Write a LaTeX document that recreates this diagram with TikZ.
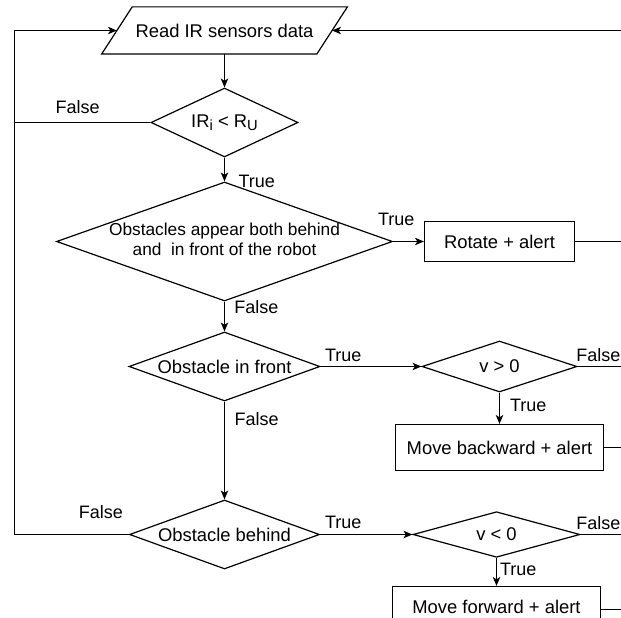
\documentclass[tikz,border=0pt]{standalone}
\usepackage{fontspec}
\setmainfont{Liberation Sans}
\usetikzlibrary{shapes.geometric,arrows.meta,calc}
% lowered, slightly smaller index letters
\newcommand\lowsub[1]{\raisebox{-3.3pt}{\fontsize{14.7}{14.7}\selectfont #1}}
% zero-width text so the diamond keeps its given size
\newcommand\zw[1]{\makebox[0pt]{#1}}

\begin{document}
\begin{tikzpicture}[x=1pt,y=-1pt,line width=1.2pt,
  every node/.style={inner sep=0pt},
  base/.style={font=\fontsize{18.4}{22}\selectfont},
  proc/.style={base,draw,rectangle},
  dec/.style={base,draw,diamond},
  lbl/.style={font=\fontsize{18}{20}\selectfont},
  arr/.style={-{Stealth[length=9pt,width=7.5pt,inset=2.5pt]}}]
\useasboundingbox (0,0) rectangle (621,618);
\clip (0,0) rectangle (621,618);

% input block (parallelogram drawn around a plain node)
\node[base,minimum width=214pt,minimum height=46pt] (read) at (224.5,30.5) {Read IR sensors data};
\draw ([xshift=15.3pt]read.north west) -- ([xshift=15.3pt]read.north east)
  -- ([xshift=-15.3pt]read.south east) -- ([xshift=-15.3pt]read.south west) -- cycle;

% decisions and actions
\node[dec,minimum width=147pt,minimum height=69pt] (ir) at (224.5,122.5)
  {\zw{IR\lowsub{i} < R\lowsub{U}}};
\node[dec,minimum width=336pt,minimum height=119pt,font=\fontsize{17.3}{20.6}\selectfont] (both) at (224.5,241.5)
  {\zw{\begin{tabular}{@{}c@{}}Obstacles appear both behind\\and\ \ in front of the robot\end{tabular}}};
\node[proc,minimum width=150pt,minimum height=40pt] (rot) at (499.5,241.5) {Rotate + alert};
\node[dec,minimum width=191pt,minimum height=69pt] (front) at (224.5,366.5) {\zw{Obstacle in front}};
\node[dec,minimum width=155pt,minimum height=51pt] (vpos) at (499.5,366.5) {\zw{v > 0}};
\node[proc,minimum width=208pt,minimum height=46pt] (back) at (499.5,447.5) {Move backward + alert};
\node[dec,minimum width=190pt,minimum height=69pt] (behind) at (224.5,534.5) {\zw{Obstacle behind}};
\node[dec,minimum width=167pt,minimum height=45.6pt] (vneg) at (496.5,534.5) {\zw{v < 0}};
\node[proc,minimum width=208pt,minimum height=46pt] (fwd) at (496.5,609.5) {\raisebox{6.2pt}{Move forward + alert}};

% free ends at the left loop and the right border
\coordinate (lft) at (14.5,30.5);
\coordinate (rgt) at (621,30.5);

% connectors
\draw[arr] (read.south) -- (ir.north);
\draw[arr] (ir.south) -- (both.north);
\draw (ir.west) -- (ir.west -| lft);
\draw[arr] (behind.west) -| (lft) -- (read.west);
\draw[arr] (rgt) -- (read.east);
\draw[arr] (both.east) -- (rot.west);
\draw (rot.east) -- (rot.east -| rgt);
\draw[arr] (both.south) -- (front.north);
\draw[arr] (front.east) -- (vpos.west);
\draw (vpos.east) -- (vpos.east -| rgt);
\draw[arr] (vpos.south) -- (back.north);
\draw (back.east) -- (back.east -| rgt);
\draw[arr] (front.south) -- (behind.north);
\draw[arr] (behind.east) -- (vneg.west);
\draw (vneg.east) -- (vneg.east -| rgt);
\draw[arr] (vneg.south) -- (fwd.north);
\draw (fwd.east) -- (fwd.east -| rgt);

% branch labels
\node[lbl] (l1) at (77.7,107.3) {False};
\node[lbl] (l2) at (256.7,181.7) {True};
\node[lbl] (l3) at (396.3,219.3) {True};
\node[lbl] (l4) at (256.4,306.7) {False};
\node[lbl] (l5) at (343.3,355) {True};
\node[lbl] (l6) at (598.3,355) {False};
\node[lbl] (l7) at (528.3,405) {True};
\node[lbl] (l8) at (256.7,419) {False};
\node[lbl] (l9) at (101,511.7) {False};
\node[lbl] (l10) at (343.3,522.7) {True};
\node[lbl] (l11) at (598.3,522.7) {False};
\node[lbl] (l12) at (518.3,569.3) {True};
\end{tikzpicture}
\end{document}
